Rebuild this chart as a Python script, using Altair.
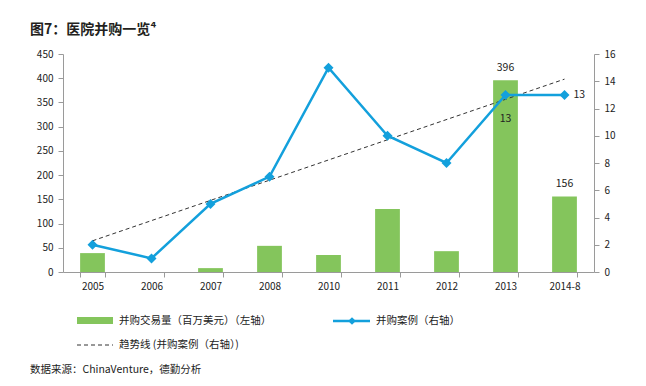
import altair as alt
import pandas as pd

categories = ["2005", "2006", "2007", "2008", "2010", "2011", "2012", "2013", "2014-8"]
deal_value = [39, 0, 8, 54, 35, 130, 43, 396, 156]
deal_count = [2, 1, 5, 7, 15, 10, 8, 13, 13]
index = list(range(len(categories)))

df = pd.DataFrame({"cat": categories, "value": deal_value, "count": deal_count, "idx": index})

GREEN = "#84c55c"
BLUE = "#13a0dc"
FONT = "Noto Sans CJK SC"
AX = "#9a9a9a"

xenc = alt.X("cat:N", sort=categories, title=None,
             scale=alt.Scale(paddingInner=0.58, paddingOuter=0.29),
             axis=alt.Axis(labelAngle=0, tickBand="extent", domainColor=AX, tickColor=AX,
                           tickSize=5, labelPadding=4, labelFontSize=10, labelColor="#222",
                           labelFont=FONT, grid=False))

yl = alt.Y("value:Q", title=None, scale=alt.Scale(domain=[0, 450]),
           axis=alt.Axis(values=list(range(0, 451, 50)), orient="left", domainColor=AX,
                         tickColor=AX, tickSize=5, labelPadding=5, labelFontSize=10,
                         labelColor="#222", labelFont=FONT, grid=False))
yr = alt.Y("count:Q", title=None, scale=alt.Scale(domain=[0, 16]),
           axis=alt.Axis(values=list(range(0, 17, 2)), orient="right", domainColor=AX,
                         tickColor=AX, tickSize=5, labelPadding=5, labelFontSize=10,
                         labelColor="#222", labelFont=FONT, grid=False))

base = alt.Chart(df)

bars = base.mark_bar(color=GREEN).encode(x=xenc, y=yl)
bar_text = base.transform_filter("datum.value > 150").mark_text(
    dy=-7, baseline="bottom", fontSize=10.5, font=FONT, color="#222"
).encode(x=xenc, y=yl, text="value:Q")

one = pd.DataFrame({"a": [0]})
deco = alt.Chart(one)
leg_rect = deco.mark_rect(color=GREEN).encode(
    x=alt.value(14), x2=alt.value(50), y=alt.value(263), y2=alt.value(270))
leg_t1 = deco.mark_text(align="left", baseline="middle", fontSize=10.5, font=FONT, color="#222").encode(
    x=alt.value(56), y=alt.value(267), text=alt.value("并购交易量（百万美元）（左轴）"))
leg_line = deco.mark_rule(color=BLUE, strokeWidth=2.5).encode(
    x=alt.value(270), x2=alt.value(307), y=alt.value(267))
leg_pt = deco.mark_point(shape="diamond", filled=True, size=60, color=BLUE, opacity=1).encode(
    x=alt.value(289), y=alt.value(267))
leg_t2 = deco.mark_text(align="left", baseline="middle", fontSize=10.5, font=FONT, color="#222").encode(
    x=alt.value(313), y=alt.value(267), text=alt.value("并购案例（右轴）"))
leg_dash = deco.mark_rule(color="#333", strokeWidth=1, strokeDash=[4, 3]).encode(
    x=alt.value(14), x2=alt.value(50), y=alt.value(291))
leg_t3 = deco.mark_text(align="left", baseline="middle", fontSize=10.5, font=FONT, color="#222").encode(
    x=alt.value(56), y=alt.value(291), text=alt.value("趋势线 (并购案例（右轴）)"))
source = deco.mark_text(align="left", baseline="middle", fontSize=10.5, font=FONT, color="#222").encode(
    x=alt.value(-33), y=alt.value(316), text=alt.value("数据来源：ChinaVenture，德勤分析"))

left = alt.layer(bars, bar_text, leg_rect, leg_t1, leg_line, leg_pt, leg_t2, leg_dash, leg_t3, source)

cat_array = "[" + ",".join(f"'{c}'" for c in categories) + "]"
trend = base.transform_regression("idx", "count", method="linear").transform_calculate(
    cat=f"{cat_array}[round(datum.idx)]"
).mark_line(color="#333", strokeWidth=1, strokeDash=[4, 3]).encode(x=xenc, y=yr)

line = base.mark_line(color=BLUE, strokeWidth=2.5).encode(x=xenc, y=yr)
pts = base.mark_point(shape="diamond", filled=True, size=100, color=BLUE, opacity=1).encode(x=xenc, y=yr)
lab1 = base.transform_filter("datum.cat == '2013'").mark_text(
    dy=24, fontSize=10.5, font=FONT, color="#222").encode(x=xenc, y=yr, text="count:Q")
lab2 = base.transform_filter("datum.cat == '2014-8'").mark_text(
    dx=9, align="left", fontSize=10.5, font=FONT, color="#222").encode(x=xenc, y=yr, text="count:Q")

right = alt.layer(trend, line, pts, lab1, lab2)

chart = alt.layer(left, right).resolve_scale(y="independent").properties(
    width=531, height=218,
    autosize=alt.AutoSizeParams(type="none"),
    padding={"left": 55, "top": 46, "right": 44, "bottom": 106},
    title=alt.TitleParams("图7：医院并购一览⁴", anchor="start", frame="group", font=FONT, fontSize=14,
                          fontWeight="bold", color="#231f20", dx=-33, offset=12),
).configure_view(stroke=None)

chart.save("out.html", embed_options={"renderer": "svg", "actions": False})
